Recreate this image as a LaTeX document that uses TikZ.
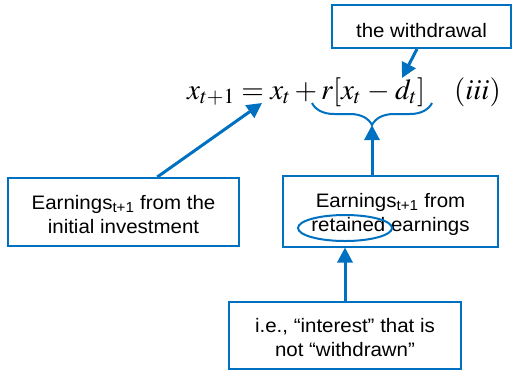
\documentclass[tikz,border=0pt]{standalone}
\usepackage{mathptmx}
\usepackage[no-math]{fontspec}
\setmainfont{Liberation Sans}[FakeStretch=1.05]
\usetikzlibrary{arrows.meta,calc,shapes.geometric,decorations.pathreplacing}
\definecolor{pptblue}{RGB}{0,112,192}

\begin{document}
\begin{tikzpicture}[
    x=1pt,y=-1pt,
    box/.style={rectangle,draw=pptblue,line width=2pt,align=center,inner sep=0pt,font=\fontsize{19.5}{24}\selectfont},
    arrow/.style={-{Triangle[length=15pt,width=15pt]},draw=pptblue,line width=3pt},
    brace/.style={decorate,decoration={brace,mirror,amplitude=22pt},draw=pptblue,line width=2pt}
]
\useasboundingbox (0,0) rectangle (513,373);

\node[anchor=base west,inner sep=0pt,font=\fontsize{29}{30}\selectfont] (eq) at (187,99)
    {$x_{t+1} = x_t + r[x_t\mkern1mu - \mkern1mu d_t]\quad (iii)$};

\node[box,minimum width=179pt,minimum height=43pt,text height=21pt,text depth=0pt] (withdrawal) at (421.5,26.5)
    {the withdrawal};
\node[box,minimum width=231pt,minimum height=68pt,text height=42pt,text depth=0pt] (initial) at (123.5,212)
    {Earnings\textsubscript{t+1} from the\\initial investment};
\node[box,minimum width=215pt,minimum height=71pt,text height=40pt,text depth=0pt] (retained) at (390.5,211)
    {Earnings\textsubscript{t+1} from\\retained earnings};
\node[box,minimum width=232pt,minimum height=67pt,text height=41pt,text depth=0pt] (interest) at (345,335.5)
    {i.e., “interest” that is\\not “withdrawn”};

% ring round "retained"
\node[ellipse,draw=pptblue,line width=2pt,minimum width=94pt,minimum height=26pt] (ring) at (345,228) {};

% brace under r[x_t - d_t]
\draw[brace] (312,103) -- (432,103);
\coordinate (bracetip) at (372,125);
\coordinate (xt) at (262,103);
\coordinate (dt) at (402,78);

\draw[arrow] ($(withdrawal.south west)!0.475!(withdrawal.south east)$) -- (dt);
\draw[arrow] ($(initial.north west)!0.645!(initial.north east)$) -- (xt);
\draw[arrow] (retained.north -| bracetip) -- (bracetip);
\draw[arrow] (interest.north -| ring) -- (retained.south -| ring);
\end{tikzpicture}
\end{document}
